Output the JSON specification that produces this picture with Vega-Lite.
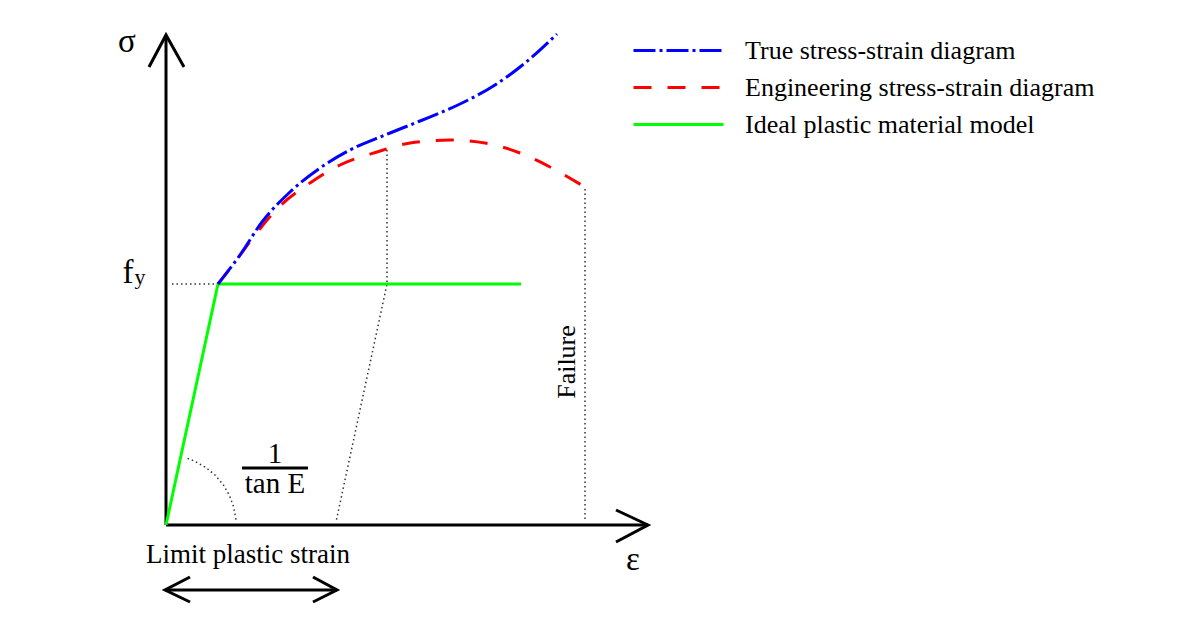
{
  "$schema": "https://vega.github.io/schema/vega-lite/v6.json",
  "width": 1200,
  "height": 630,
  "autosize": {"type": "fit", "contains": "padding"},
  "padding": 0,
  "background": "white",
  "config": {"view": {"stroke": null}, "font": "Liberation Serif"},
  "layer": [
    {
      "data": {"values": [
        {"part": "ystem", "ord": 1, "strain": 0, "stress": 0},
        {"part": "ystem", "ord": 2, "strain": 0, "stress": 490},
        {"part": "yhead", "ord": 1, "strain": -17, "stress": 458},
        {"part": "yhead", "ord": 2, "strain": 0, "stress": 490},
        {"part": "yhead", "ord": 3, "strain": 18, "stress": 458},
        {"part": "xstem", "ord": 1, "strain": 0, "stress": 0},
        {"part": "xstem", "ord": 2, "strain": 482, "stress": 0},
        {"part": "xhead", "ord": 1, "strain": 450, "stress": 15},
        {"part": "xhead", "ord": 2, "strain": 482, "stress": 0},
        {"part": "xhead", "ord": 3, "strain": 450, "stress": -17},
        {"part": "dstem", "ord": 1, "strain": -1, "stress": -65},
        {"part": "dstem", "ord": 2, "strain": 171, "stress": -65},
        {"part": "dleft", "ord": 1, "strain": 24, "stress": -52},
        {"part": "dleft", "ord": 2, "strain": -1, "stress": -65},
        {"part": "dleft", "ord": 3, "strain": 24, "stress": -77},
        {"part": "dright", "ord": 1, "strain": 147, "stress": -52},
        {"part": "dright", "ord": 2, "strain": 171, "stress": -65},
        {"part": "dright", "ord": 3, "strain": 147, "stress": -77},
        {"part": "frac", "ord": 1, "strain": 76, "stress": 57},
        {"part": "frac", "ord": 2, "strain": 142, "stress": 57}
      ]},
      "mark": {"type": "line", "color": "black", "strokeWidth": 3, "strokeCap": "butt", "strokeJoin": "miter"},
      "encoding": {
        "x": {"field": "strain", "type": "quantitative", "scale": {"domain": [-166, 1034], "nice": false, "zero": false}, "axis": null},
        "y": {"field": "stress", "type": "quantitative", "scale": {"domain": [-105, 525], "nice": false, "zero": false}, "axis": null},
        "detail": {"field": "part"},
        "order": {"field": "ord"}
      }
    },
    {
      "data": {"values": [
        {"part": "fy", "ord": 1, "strain": 6, "stress": 241},
        {"part": "fy", "ord": 2, "strain": 52, "stress": 241},
        {"part": "arc", "ord": 1, "strain": 21.6, "stress": 66.6},
        {"part": "arc", "ord": 2, "strain": 29.6, "stress": 63.4},
        {"part": "arc", "ord": 3, "strain": 40.2, "stress": 57.3},
        {"part": "arc", "ord": 4, "strain": 49.5, "stress": 49.5},
        {"part": "arc", "ord": 5, "strain": 57.3, "stress": 40.2},
        {"part": "arc", "ord": 6, "strain": 63.4, "stress": 29.6},
        {"part": "arc", "ord": 7, "strain": 67.6, "stress": 18.1},
        {"part": "arc", "ord": 8, "strain": 70, "stress": 5},
        {"part": "unload", "ord": 1, "strain": 221, "stress": 375},
        {"part": "unload", "ord": 2, "strain": 221, "stress": 241},
        {"part": "unload", "ord": 3, "strain": 170, "stress": 3},
        {"part": "fail", "ord": 1, "strain": 419, "stress": 336},
        {"part": "fail", "ord": 2, "strain": 419, "stress": 3}
      ]},
      "mark": {"type": "line", "color": "#333333", "strokeWidth": 1.5, "strokeDash": [1.5, 3]},
      "encoding": {
        "x": {"field": "strain", "type": "quantitative"},
        "y": {"field": "stress", "type": "quantitative"},
        "detail": {"field": "part"},
        "order": {"field": "ord"}
      }
    },
    {
      "data": {"values": [
        {"series": "Ideal plastic material model", "strain": 0, "stress": 0},
        {"series": "Ideal plastic material model", "strain": 52, "stress": 241},
        {"series": "Ideal plastic material model", "strain": 355, "stress": 241}
      ]},
      "mark": {"type": "line", "strokeWidth": 3, "strokeCap": "butt", "strokeJoin": "miter"},
      "encoding": {
        "x": {"field": "strain", "type": "quantitative"},
        "y": {"field": "stress", "type": "quantitative"},
        "color": {"field": "series", "type": "nominal"},
        "strokeDash": {"field": "series", "type": "nominal"}
      }
    },
    {
      "data": {"values": [
        {"series": "Engineering stress-strain diagram", "strain": 52, "stress": 241},
        {"series": "Engineering stress-strain diagram", "strain": 69, "stress": 263},
        {"series": "Engineering stress-strain diagram", "strain": 89, "stress": 290},
        {"series": "Engineering stress-strain diagram", "strain": 114, "stress": 319},
        {"series": "Engineering stress-strain diagram", "strain": 144, "stress": 342},
        {"series": "Engineering stress-strain diagram", "strain": 174, "stress": 360},
        {"series": "Engineering stress-strain diagram", "strain": 211, "stress": 373},
        {"series": "Engineering stress-strain diagram", "strain": 244, "stress": 382},
        {"series": "Engineering stress-strain diagram", "strain": 284, "stress": 385},
        {"series": "Engineering stress-strain diagram", "strain": 319, "stress": 382},
        {"series": "Engineering stress-strain diagram", "strain": 354, "stress": 372},
        {"series": "Engineering stress-strain diagram", "strain": 384, "stress": 358},
        {"series": "Engineering stress-strain diagram", "strain": 422, "stress": 336},
        {"series": "True stress-strain diagram", "strain": 52, "stress": 241},
        {"series": "True stress-strain diagram", "strain": 74, "stress": 270},
        {"series": "True stress-strain diagram", "strain": 96, "stress": 303},
        {"series": "True stress-strain diagram", "strain": 124, "stress": 333},
        {"series": "True stress-strain diagram", "strain": 154, "stress": 357},
        {"series": "True stress-strain diagram", "strain": 184, "stress": 375},
        {"series": "True stress-strain diagram", "strain": 219, "stress": 390},
        {"series": "True stress-strain diagram", "strain": 254, "stress": 404},
        {"series": "True stress-strain diagram", "strain": 294, "stress": 421},
        {"series": "True stress-strain diagram", "strain": 329, "stress": 440},
        {"series": "True stress-strain diagram", "strain": 359, "stress": 462},
        {"series": "True stress-strain diagram", "strain": 391, "stress": 491}
      ]},
      "mark": {"type": "line", "strokeWidth": 3, "strokeCap": "butt", "interpolate": "monotone"},
      "encoding": {
        "x": {"field": "strain", "type": "quantitative"},
        "y": {"field": "stress", "type": "quantitative"},
        "color": {
          "field": "series", "type": "nominal",
          "scale": {"domain": ["True stress-strain diagram", "Engineering stress-strain diagram", "Ideal plastic material model"], "range": ["#0000ff", "#ff0000", "#00ff00"]},
          "legend": {
            "title": null, "orient": "none", "legendX": 662, "legendY": 34,
            "symbolType": "M-3,0H3", "symbolSize": 900, "symbolStrokeWidth": 3,
            "labelFont": "Liberation Serif", "labelFontSize": 26, "labelColor": "black",
            "labelOffset": 50, "rowPadding": 7, "padding": 0, "labelLimit": 500
          }
        },
        "strokeDash": {
          "field": "series", "type": "nominal",
          "scale": {"domain": ["True stress-strain diagram", "Engineering stress-strain diagram", "Ideal plastic material model"], "range": [[22, 4, 3, 4], [18, 16], [1, 0]]},
          "legend": {
            "title": null, "orient": "none", "legendX": 662, "legendY": 34,
            "symbolType": "M-3,0H3", "symbolSize": 900, "symbolStrokeWidth": 3,
            "labelFont": "Liberation Serif", "labelFontSize": 26, "labelColor": "black",
            "labelOffset": 50, "rowPadding": 7, "padding": 0, "labelLimit": 500
          }
        }
      }
    },
    {
      "data": {"values": [
        {"label": "σ", "strain": -39, "stress": 473},
        {"label": "f", "strain": -38, "stress": 242},
        {"label": "ε", "strain": 467, "stress": -45}
      ]},
      "mark": {"type": "text", "font": "Liberation Serif", "fontSize": 33, "baseline": "alphabetic", "align": "center", "color": "black"},
      "encoding": {
        "x": {"field": "strain", "type": "quantitative"},
        "y": {"field": "stress", "type": "quantitative"},
        "text": {"field": "label"}
      }
    },
    {
      "data": {"values": [
        {"label": "Limit plastic strain", "strain": 82, "stress": -38}
      ]},
      "mark": {"type": "text", "font": "Liberation Serif", "fontSize": 27, "baseline": "alphabetic", "align": "center", "color": "black"},
      "encoding": {
        "x": {"field": "strain", "type": "quantitative"},
        "y": {"field": "stress", "type": "quantitative"},
        "text": {"field": "label"}
      }
    },
    {
      "data": {"values": [
        {"label": "y", "strain": -26, "stress": 241}
      ]},
      "mark": {"type": "text", "font": "Liberation Serif", "fontSize": 22, "baseline": "alphabetic", "align": "center", "color": "black"},
      "encoding": {
        "x": {"field": "strain", "type": "quantitative"},
        "y": {"field": "stress", "type": "quantitative"},
        "text": {"field": "label"}
      }
    },
    {
      "data": {"values": [
        {"label": "1", "strain": 109, "stress": 62},
        {"label": "tan E", "strain": 109, "stress": 32}
      ]},
      "mark": {"type": "text", "font": "Liberation Serif", "fontSize": 29, "baseline": "alphabetic", "align": "center", "color": "black"},
      "encoding": {
        "x": {"field": "strain", "type": "quantitative"},
        "y": {"field": "stress", "type": "quantitative"},
        "text": {"field": "label"}
      }
    },
    {
      "data": {"values": [
        {"label": "Failure", "strain": 409, "stress": 163}
      ]},
      "mark": {"type": "text", "font": "Liberation Serif", "fontSize": 26, "baseline": "alphabetic", "align": "center", "angle": 270, "color": "black"},
      "encoding": {
        "x": {"field": "strain", "type": "quantitative"},
        "y": {"field": "stress", "type": "quantitative"},
        "text": {"field": "label"}
      }
    }
  ]
}
